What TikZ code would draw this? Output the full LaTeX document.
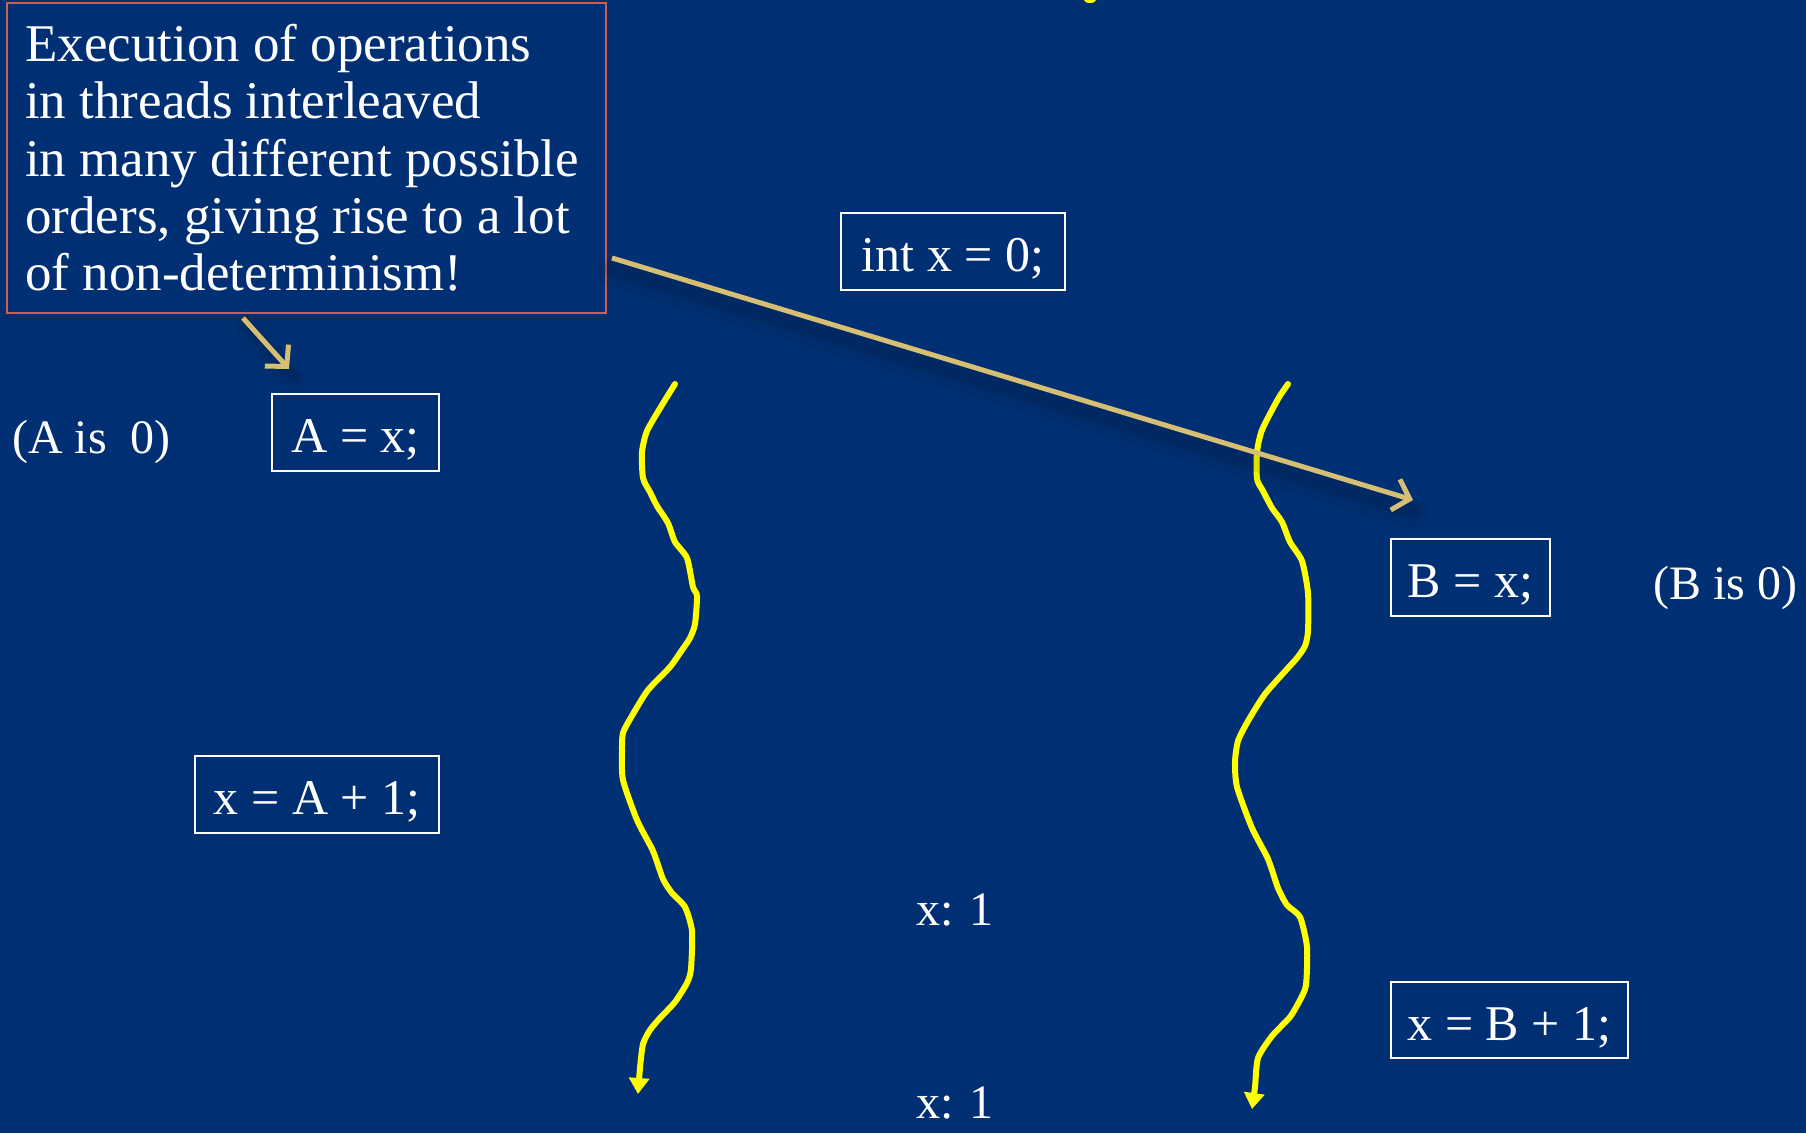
\documentclass[tikz,border=0pt]{standalone}
\usepackage{fontspec}
\setmainfont{Liberation Serif}
\usetikzlibrary{arrows.meta,calc}
\definecolor{bg}{RGB}{0,48,115}
\definecolor{callred}{RGB}{205,95,85}
\definecolor{arrowtan}{RGB}{214,191,115}
\definecolor{wave}{RGB}{255,255,0}
\begin{document}
\begin{tikzpicture}[x=1pt,y=-1pt,
 txt/.style={text=white,font=\fontsize{48}{57.3}\selectfont,inner sep=0pt},
 calltxt/.style={txt,font=\fontsize{53}{57.3}\selectfont},
 codebox/.style={txt,font=\fontsize{50}{57.3}\selectfont,draw=white,line width=2pt,text height=40pt,text depth=0pt},
 thread/.style={draw=wave,line width=6pt,line join=round,line cap=round,-{Triangle[width=20pt,length=16pt]}},
 note/.style={draw=arrowtan,line width=5pt,-{Straight Barb[length=15pt,width=32pt,line width=5pt]}},
 shade/.style={draw=black,line cap=round}]
\fill[bg] (0,0) rectangle (1806,1133);
\useasboundingbox (0,0) rectangle (1806,1133);

% callout
\node (callout) [draw=callred, line width=2pt, minimum width=599pt, minimum height=310pt, anchor=north west, inner sep=0pt] at (6,2) {};
\node (calltext) [calltxt, anchor=north west, align=left] at (25,24) {Execution of operations\\in threads interleaved\\in many different possible\\orders, giving rise to a lot\\of non-determinism!};

% code boxes
\node (intbox) [codebox, minimum width=224pt, minimum height=77pt] at (953,251.5) {int x = 0;};
\node (abox) [codebox, minimum width=167pt, minimum height=77pt] at (355.5,432.5) {A = x;};
\node (a1box) [codebox, minimum width=244pt, minimum height=77pt] at (317,794.5) {x = A + 1;};
\node (bbox) [codebox, minimum width=159pt, minimum height=77pt] at (1470.5,577.5) {B = x;};
\node (b1box) [codebox, minimum width=237pt, minimum height=76pt] at (1509.5,1020) {x = B + 1;};

% plain texts
\node (ais) [txt, anchor=base west] at (12,453) {(A is~~0)};
\node (bis) [txt, anchor=base west] at (1653,599) {(B is 0)};
\node (x1a) [txt, anchor=base west] at (916,925) {x: 1};
\node (x1b) [txt, anchor=base west] at (916,1118) {x: 1};

% threads
\draw[thread] plot[smooth,tension=0.4] coordinates {(675,384) (662,405) (647,431) (642,452) (643,478) (650,492) (657,506) (668,523) (675,542) (687,558) (693,587) (697,596) (695,624) (690,638) (682,650) (670,667) (648,690) (633,714) (623,733) (622,752) (623,780) (637,820) (653,851) (663,879) (672,893) (685,907) (692,931) (691,969) (687,983) (675,1002) (660,1018) (650,1030) (643,1044) (640,1068) (638,1094)};
\draw[thread] plot[smooth,tension=0.4] coordinates {(1288,384) (1278,399) (1262,430) (1257,452) (1257,479) (1263,491) (1272,508) (1282,522) (1290,542) (1302,561) (1308,593) (1308,631) (1305,646) (1297,658) (1288,668) (1265,694) (1248,721) (1238,741) (1235,762) (1237,787) (1252,828) (1268,859) (1278,888) (1287,905) (1300,917) (1307,947) (1306,985) (1300,1000) (1290,1017) (1272,1036) (1258,1058) (1255,1087) (1252,1109)};

% tip of a thread above the frame
\coordinate (toptip) at (1090,0);
\fill[wave] (toptip) ellipse (6pt and 3pt);

% note arrows
\coordinate (n1s) at ($(callout.south west)+(237,4)$);
\coordinate (n1e) at ($(abox.north west)+(18,-24)$);
\coordinate (n2s) at ($(callout.south east)+(5,-56)$);
\coordinate (n2e) at ($(bbox.north west)+(23,-38)$);
\draw[shade, line width=26pt, opacity=0.05] ($(n1s)+(4,10)$) -- ($(n1e)+(4,10)$);
\draw[shade, line width=12pt, opacity=0.08] ($(n1s)+(4,8)$) -- ($(n1e)+(4,8)$);
\draw[shade, line width=30pt, opacity=0.05] ($(n2s)+(0,14)$) -- ($(n2e)+(0,14)$);
\draw[shade, line width=16pt, opacity=0.08] ($(n2s)+(0,11)$) -- ($(n2e)+(0,11)$);
\draw[note] (n1s) -- (n1e);
\draw[note] (n2s) -- (n2e);
\end{tikzpicture}
\end{document}
